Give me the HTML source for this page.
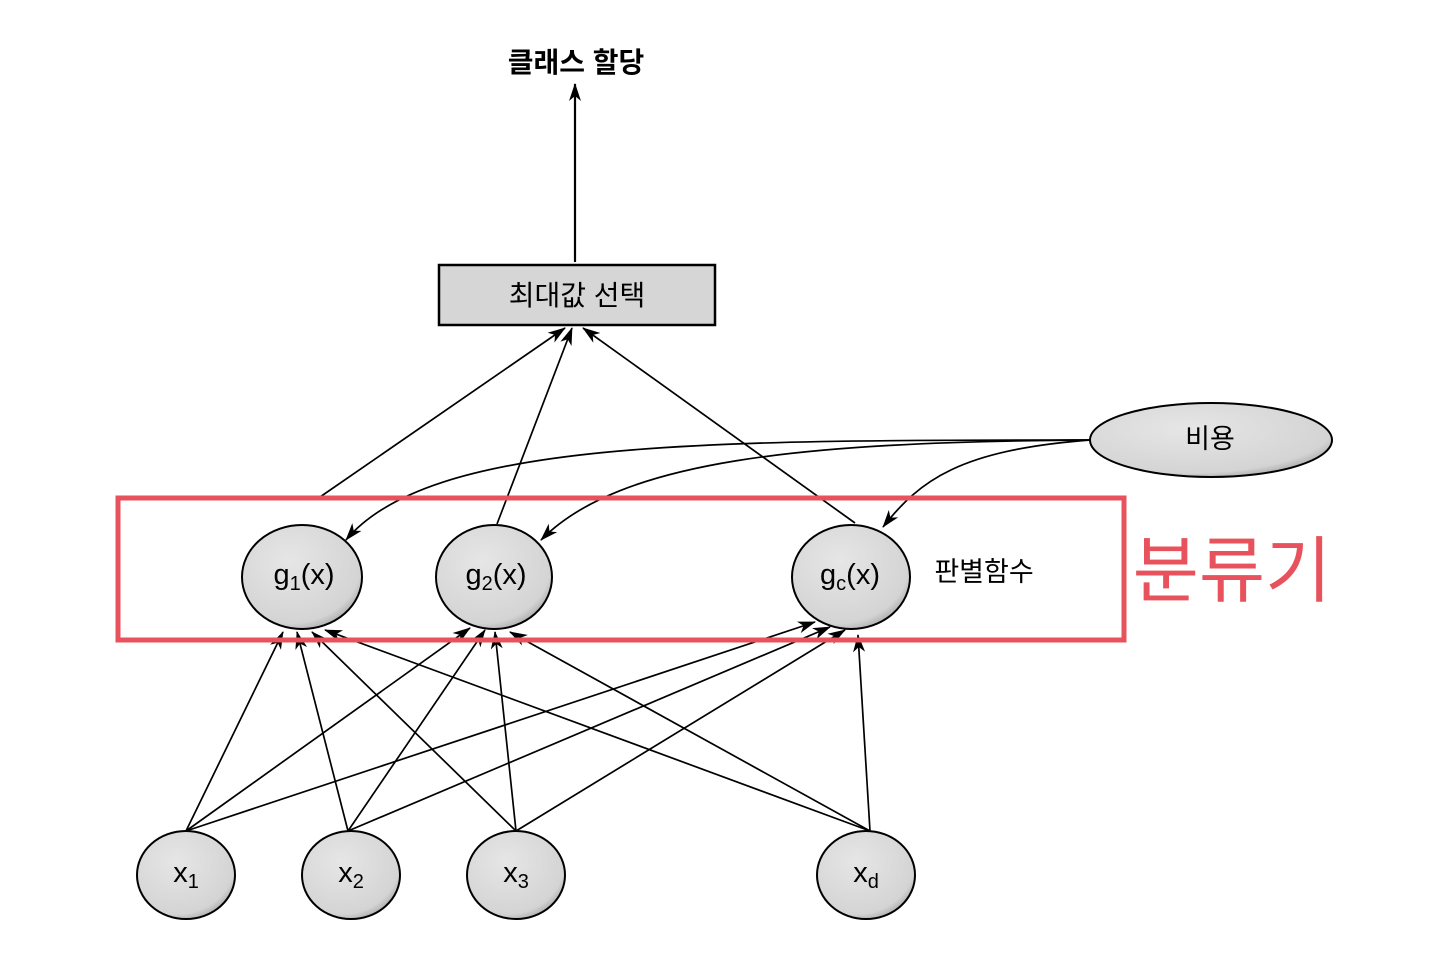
<!DOCTYPE html>
<html><head><meta charset="utf-8"><style>
body{margin:0;background:#fff;}
svg{display:block;font-family:"Liberation Sans","Noto Sans CJK KR",sans-serif;}
</style></head><body>
<svg width="1440" height="967" viewBox="0 0 1440 967">
<defs>
<marker id="a" markerWidth="18" markerHeight="12" refX="17" refY="6" orient="auto" markerUnits="userSpaceOnUse"><path d="M0,0 L18,6 L0,12 L5,6 Z" fill="#000"/></marker>
<radialGradient id="gg" cx="0.4" cy="0.35" r="0.7"><stop offset="0" stop-color="#e6e6e6"/><stop offset="0.85" stop-color="#d4d4d4"/><stop offset="1" stop-color="#a8a8a8"/></radialGradient>
</defs>
<text x="576" y="72" text-anchor="middle" font-size="28" font-weight="bold">클래스 할당</text>
<line x1="575" y1="262" x2="575" y2="84" stroke="#000" stroke-width="2.2" marker-end="url(#a)"/>
<rect x="439" y="265" width="276" height="60" fill="#d6d6d6" stroke="#000" stroke-width="2.5"/>
<text x="577" y="305" text-anchor="middle" font-size="28">최대값 선택</text>
<g stroke="#000" stroke-width="1.7" fill="none" marker-end="url(#a)">
<line x1="320" y1="497" x2="565" y2="328"/>
<line x1="497" y1="524" x2="572" y2="328"/>
<line x1="855" y1="523" x2="583" y2="328"/>
<path d="M1090,440 C700,440 430,440 346,540"/>
<path d="M1090,440 C800,442 620,460 541,540"/>
<path d="M1090,440 C960,450 920,480 883,527"/>
<line x1="186" y1="831" x2="283" y2="632"/>
<line x1="186" y1="831" x2="470" y2="628"/>
<line x1="186" y1="831" x2="815" y2="622"/>
<line x1="348" y1="831" x2="297" y2="632"/>
<line x1="348" y1="831" x2="485" y2="630"/>
<line x1="348" y1="831" x2="830" y2="627"/>
<line x1="516" y1="831" x2="312" y2="632"/>
<line x1="516" y1="831" x2="495" y2="632"/>
<line x1="516" y1="831" x2="845" y2="630"/>
<line x1="870" y1="831" x2="325" y2="630"/>
<line x1="870" y1="831" x2="510" y2="632"/>
<line x1="870" y1="831" x2="858" y2="635"/>
</g>
<ellipse cx="1211" cy="440" rx="121" ry="37" fill="url(#gg)" stroke="#000" stroke-width="2"/>
<text x="1210" y="448" text-anchor="middle" font-size="27">비용</text>
<g stroke="#000" stroke-width="2" fill="url(#gg)">
<ellipse cx="302" cy="577" rx="60" ry="52"/>
<ellipse cx="494" cy="577" rx="58" ry="52"/>
<ellipse cx="851" cy="577" rx="59" ry="52"/>
<ellipse cx="186" cy="875" rx="49" ry="44"/>
<ellipse cx="351" cy="875" rx="49" ry="44"/>
<ellipse cx="516" cy="875" rx="49" ry="44"/>
<ellipse cx="866" cy="875" rx="49" ry="44"/>
</g>
<g font-size="29" text-anchor="middle">
<text x="304" y="584">g<tspan font-size="20" dy="6">1</tspan><tspan dy="-6">(x)</tspan></text>
<text x="496" y="584">g<tspan font-size="20" dy="6">2</tspan><tspan dy="-6">(x)</tspan></text>
<text x="850" y="584">g<tspan font-size="20" dy="6">c</tspan><tspan dy="-6">(x)</tspan></text>
<text x="186" y="882">x<tspan font-size="20" dy="6">1</tspan></text>
<text x="351" y="882">x<tspan font-size="20" dy="6">2</tspan></text>
<text x="516" y="882">x<tspan font-size="20" dy="6">3</tspan></text>
<text x="866" y="882">x<tspan font-size="20" dy="6">d</tspan></text>
</g>
<text x="984" y="581" text-anchor="middle" font-size="27">판별함수</text>
<rect x="118" y="498" width="1006" height="142" fill="none" stroke="#e8525c" stroke-width="5"/>
<text x="1232" y="596" text-anchor="middle" font-size="72" fill="#e8525c">분류기</text>
</svg>
</body></html>
